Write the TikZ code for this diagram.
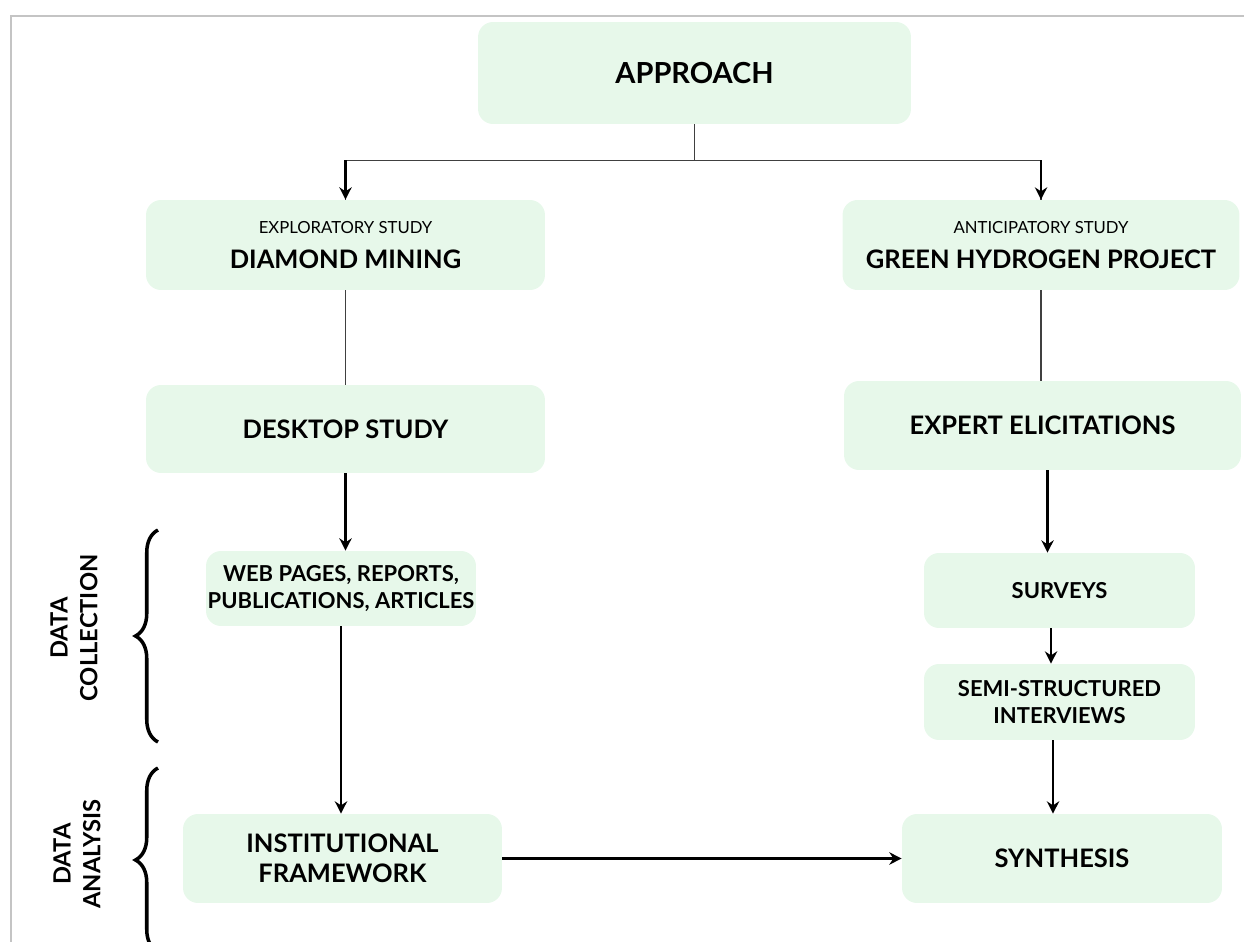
\documentclass[tikz,border=0pt]{standalone}
\usepackage{fontspec}
\setmainfont{Lato}
\usetikzlibrary{arrows.meta,decorations.pathreplacing}
\definecolor{boxgreen}{RGB}{231,248,234}
\definecolor{framegray}{RGB}{196,196,196}

\begin{document}
\begin{tikzpicture}[x=0.02cm, y=-0.02cm,
  box/.style={fill=boxgreen, rounded corners=0.3cm, align=center, inner sep=0pt},
  title/.style={font=\fontsize{14.5}{17}\selectfont\bfseries},
  label/.style={font=\fontsize{12.5}{15}\selectfont\bfseries},
  line/.style={draw=black!75, line width=0.8pt},
  arrow/.style={draw=black, line width=1.3pt, -{Stealth[length=7pt,width=7pt]}},
  curly/.style={decorate, decoration={brace, amplitude=0.45cm}, line width=2pt}]
  \clip (0,0) rectangle (1244,942);
  % frame
  \draw[framegray, line width=1pt] (11,942) -- (11,16) -- (1244,16);

  % top
  \node[box, minimum width=8.66cm, minimum height=2.04cm, font=\fontsize{16.5}{20}\selectfont\bfseries] (approach) at (694.5,73) {APPROACH};
  \node[box, minimum width=7.98cm, minimum height=1.8cm] (diamond) at (345.5,245)
    {{\fontsize{9.5}{11}\selectfont EXPLORATORY STUDY}\\[8pt]{\fontsize{14.5}{17}\selectfont\bfseries DIAMOND MINING}};
  \node[box, minimum width=7.94cm, minimum height=1.8cm] (green) at (1041,245)
    {{\fontsize{9.5}{11}\selectfont ANTICIPATORY STUDY}\\[8pt]{\fontsize{14.5}{17}\selectfont\bfseries GREEN HYDROGEN PROJECT}};

  % methods
  \node[box, title, minimum width=7.98cm, minimum height=1.76cm] (desktop) at (345.5,429) {DESKTOP STUDY};
  \node[box, title, minimum width=7.94cm, minimum height=1.78cm] (expert) at (1042.5,425.5) {EXPERT ELICITATIONS};

  % data collection
  \node[box, label, minimum width=5.4cm, minimum height=1.5cm] (web) at (341,588.5) {WEB PAGES, REPORTS,\\PUBLICATIONS, ARTICLES};
  \node[box, label, minimum width=5.42cm, minimum height=1.5cm] (surveys) at (1059.5,590.5) {SURVEYS};
  \node[box, label, minimum width=5.42cm, minimum height=1.52cm] (semi) at (1059.5,702) {SEMI-STRUCTURED\\INTERVIEWS};

  % data analysis
  \node[box, title, minimum width=6.38cm, minimum height=1.78cm] (inst) at (342.5,858.5) {INSTITUTIONAL\\FRAMEWORK};
  \node[box, title, minimum width=6.4cm, minimum height=1.78cm] (synth) at (1062,858.5) {SYNTHESIS};

  % side labels
  \node[label, font=\fontsize{13.5}{17}\selectfont\bfseries, rotate=90, align=center] (collect) at (74,628) {DATA\\COLLECTION};
  \node[label, font=\fontsize{13.5}{17}\selectfont\bfseries, rotate=90, align=center] (analyse) at (77,854) {DATA\\ANALYSIS};
  \draw[curly] (158,742) -- (158,530);
  \draw[curly] (158,952) -- (158,768);

  % connectors
  \draw[line] (approach.south) -- ++(0,36) coordinate (fork);
  \draw[line] (fork) -| (diamond.north);
  \draw[line] (fork) -| (green.north);
  \draw[arrow] (fork -| diamond.north) -- (diamond.north);
  \draw[arrow] (fork -| green.north) -- (green.north);
  \draw[line] (diamond) -- (desktop);
  \draw[line] (green) -- (expert.north -| green);
  \draw[arrow] (desktop.south) -- (desktop.south |- web.north);
  \draw[arrow] (web.south) -- (web.south |- inst.north);
  \draw[arrow] ([xshift=0.1cm]expert.south) -- ([xshift=0.1cm]expert.south |- surveys.north);
  \draw[arrow] ([xshift=-0.17cm]surveys.south) -- ([xshift=-0.17cm]semi.north);
  \draw[arrow] (semi.south -| synth.north) ++(-0.18cm,0) -- ([xshift=-0.18cm]synth.north);
  \draw[arrow] (inst) -- (synth);
\end{tikzpicture}
\end{document}
